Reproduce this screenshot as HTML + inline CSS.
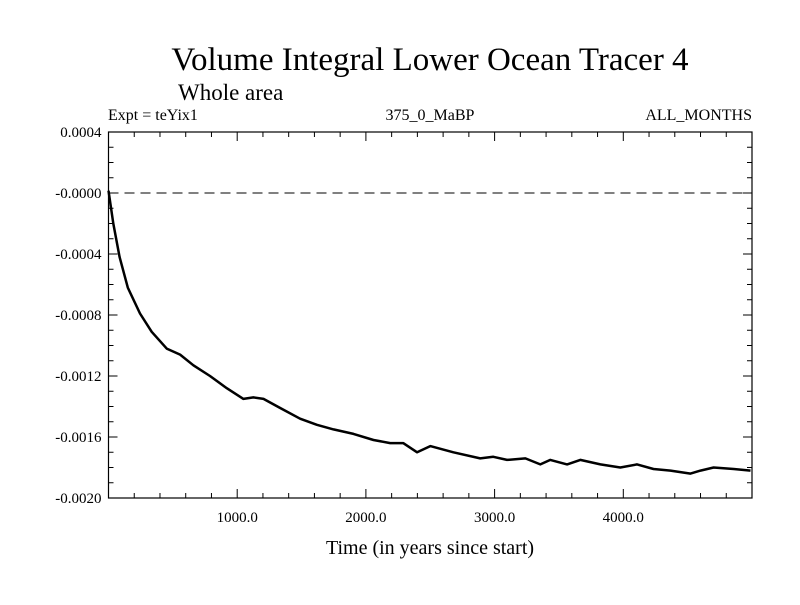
<!DOCTYPE html>
<html><head><meta charset="utf-8"><style>
body{margin:0;background:#fff;}
svg text{font-family:"Liberation Serif",serif;fill:#000;}
</style></head><body>
<svg id="chart" width="800" height="600" xmlns="http://www.w3.org/2000/svg">
<text x="430" y="70" font-size="33" text-anchor="middle">Volume Integral Lower Ocean Tracer 4</text>
<text x="178" y="100" font-size="23">Whole area</text>
<text x="108" y="120" font-size="16">Expt = teYix1</text>
<text x="430" y="120" font-size="16" text-anchor="middle">375_0_MaBP</text>
<text x="752" y="120" font-size="16" text-anchor="end">ALL_MONTHS</text>
<g id="axes"></g>
<text x="430" y="554" font-size="20" text-anchor="middle">Time (in years since start)</text>
</svg>
<script>
const years=[0,37,86,150,245,336,452,556,660,789,919,1048,1126,1204,1334,1489,1619,1748,1904,2059,2189,2290,2398,2500,2680,2888,2990,3096,3239,3355,3433,3563,3666,3822,3977,4107,4235,4367,4522,4600,4702,4858,4988];
const values=[0.000015,-0.0002,-0.00042,-0.00062,-0.00079,-0.00091,-0.00102,-0.00106,-0.00113,-0.0012,-0.00128,-0.00135,-0.00134,-0.00135,-0.00141,-0.00148,-0.00152,-0.00155,-0.00158,-0.00162,-0.00164,-0.00164,-0.0017,-0.00166,-0.0017,-0.00174,-0.00173,-0.00175,-0.00174,-0.00178,-0.00175,-0.00178,-0.00175,-0.00178,-0.0018,-0.00178,-0.00181,-0.00182,-0.00184,-0.00182,-0.0018,-0.00181,-0.00182];
const yTicks=[0.0004,0,-0.0004,-0.0008,-0.0012,-0.0016,-0.002];
const yTickLabels=["0.0004","-0.0000","-0.0004","-0.0008","-0.0012","-0.0016","-0.0020"];
const xTicks=[1000,2000,3000,4000];
const xTickLabels=["1000.0","2000.0","3000.0","4000.0"];
const L=108.5,R=752,T=132,B=498,xMin=0,xMax=5000,yMin=-0.002,yMax=0.0004;
const NS="http://www.w3.org/2000/svg";
const sx=v=>L+(v-xMin)/(xMax-xMin)*(R-L);
const sy=v=>B-(v-yMin)/(yMax-yMin)*(B-T);
const g=document.getElementById('axes');
function mk(tag,attrs){const e=document.createElementNS(NS,tag);for(const k in attrs)e.setAttribute(k,attrs[k]);g.appendChild(e);return e;}
let e=mk('rect',{x:L,y:T,width:R-L,height:B-T,fill:'none',stroke:'#000','stroke-width':1.2});


e=mk('line',{x1:L,x2:R,y1:sy(0),y2:sy(0),stroke:'#000','stroke-width':1,'stroke-dasharray':'10,6'});


for(let v=200;v<xMax;v+=200){const major=v%1000===0;const len=major?9:5;
 e=mk('line',{x1:sx(v),x2:sx(v),y1:B,y2:B-len,stroke:'#000','stroke-width':1});
 
 
 e=mk('line',{x1:sx(v),x2:sx(v),y1:T,y2:T+len,stroke:'#000','stroke-width':1});
 
 }
for(let i=1;i<24;i++){const v=yMin+i*0.0001;const major=i%4===0;const len=major?9:5;
 e=mk('line',{x1:L,x2:L+len,y1:sy(v),y2:sy(v),stroke:'#000','stroke-width':1});
 
 
 e=mk('line',{x1:R,x2:R-len,y1:sy(v),y2:sy(v),stroke:'#000','stroke-width':1});
 
 }
yTicks.forEach((v,i)=>{e=mk('text',{x:L-7,y:sy(v)+5,'font-size':15,'text-anchor':'end'});e.textContent=yTickLabels[i];
 
 });
xTicks.forEach((v,i)=>{e=mk('text',{x:sx(v),y:B+24,'font-size':15,'text-anchor':'middle'});e.textContent=xTickLabels[i];
 
 });
const d=years.map((y,i)=>(i?'L':'M')+sx(y).toFixed(1)+','+sy(values[i]).toFixed(1)).join('');
e=mk('path',{d:d,fill:'none',stroke:'#000','stroke-width':2.5,'stroke-linejoin':'round'});


</script>
</body></html>
